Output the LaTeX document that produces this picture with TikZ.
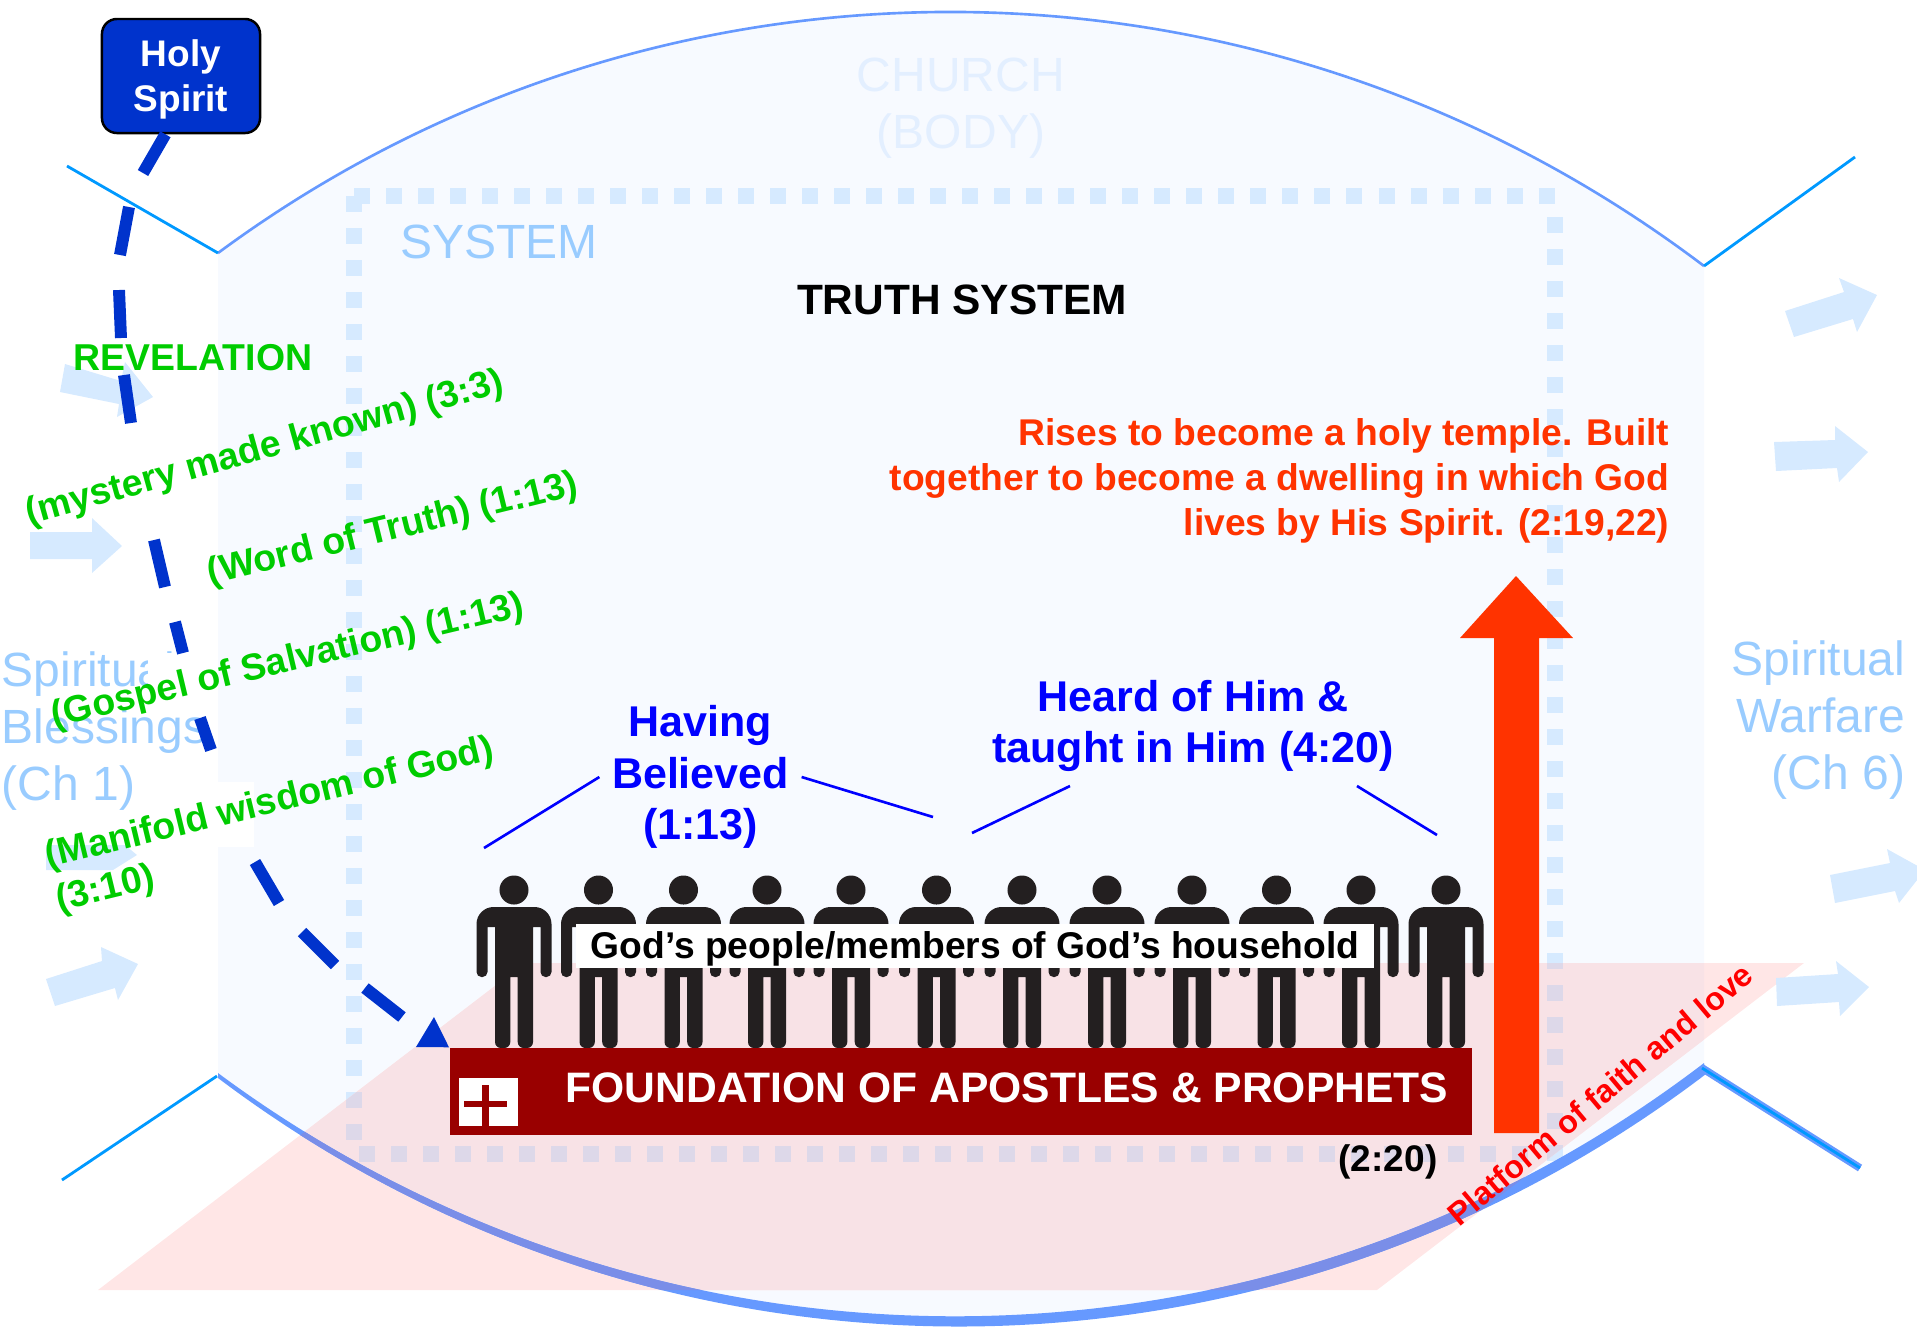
\documentclass[tikz,border=0pt]{standalone}
\usepackage{fontspec}
\setmainfont{Liberation Sans}
\usetikzlibrary{calc}
\newcommand\pxf[2]{\fontsize{\fpeval{#1*0.2845}pt}{\fpeval{#2*0.2845}pt}\selectfont}
\definecolor{bodyfill}{HTML}{F7FAFF}
\definecolor{paleblue}{HTML}{D6EAFF}
\definecolor{midblue}{HTML}{99CCFF}
\definecolor{archblue}{HTML}{6699FF}
\definecolor{cornerblue}{HTML}{0099FF}
\definecolor{deepblue}{HTML}{0033CC}
\definecolor{leafgreen}{HTML}{00CC00}
\definecolor{brick}{HTML}{990000}
\definecolor{flame}{HTML}{FF3300}
\definecolor{personc}{HTML}{231F20}
\definecolor{pinkbase}{HTML}{FFE6E6}
\definecolor{pinkbody}{HTML}{F8E2E6}
\definecolor{pinkdot}{HTML}{DDD8E9}
\definecolor{pinkarch}{HTML}{7A8EE8}
\definecolor{churchc}{HTML}{E3EFFF}
\newcommand\bodyshape{(218,253) .. controls (659,-73) and (1263,-68) .. (1704,266) -- (1704,1070) .. controls (1264,1405) and (658,1405) .. (218,1076) -- cycle}
\newcommand\platshape{(98,1290) -- (525,963) -- (1804,963) -- (1377,1290) -- cycle}
\newcommand\archband{(218,1073) .. controls (658,1399) and (1264,1399) .. (1704,1063) -- (1706,1074) .. controls (1264,1410) and (658,1410) .. (218,1078) -- cycle}
\newcommand\sysdots[1]{%
  \draw[sysdot,draw=#1] (354,196) -- (1562,196);
  \draw[sysdot,draw=#1] (353.6,196) -- (353.6,1145);
  \draw[sysdot,draw=#1] (359,1154) -- (1530,1154);
  \draw[sysdot,draw=#1] (1555,217) -- (1555,1161);
}
\tikzset{
  x=0.01cm,y=-0.01cm,
  sysdot/.style={line width=4.552pt,dash pattern=on 4.552pt off 4.552pt},
  corner/.style={draw=cornerblue,line width=0.8pt},
  pale/.style={fill=paleblue},
  txt/.style={inner sep=0pt,text depth=0pt},
  greenlab/.style={inner sep=0pt,text=leafgreen,font=\pxf{37.4}{45}\bfseries},
  bluelab/.style={text=blue,font=\pxf{43}{51.5}\bfseries,align=center},
  ghost/.style={inner sep=0pt,text=midblue,font=\pxf{48}{57}},
  thinblue/.style={draw=blue,line width=0.75pt},
  spiritline/.style={draw=deepblue,line width=3.4pt},
}
\begin{document}
\begin{tikzpicture}
\useasboundingbox (0,0) rectangle (1917,1326);
% church body
\fill[bodyfill] \bodyshape;
\sysdots{paleblue}
% platform
\fill[pinkbase] \platshape;
\begin{scope}
  \clip \platshape;
  \fill[pinkbody] \bodyshape;
  \sysdots{pinkdot}
\end{scope}
% outlines
\draw[archblue,line width=0.75pt] (218,253) .. controls (659,-73) and (1263,-68) .. (1704,266);
\fill[archblue] \archband;
\begin{scope}
  \clip \platshape;
  \fill[pinkarch] \archband;
\end{scope}
\draw[corner] (67,166) -- (218,253);
\draw[corner] (1704,266) -- (1855,157);
\draw[corner] (217,1076) -- (62,1180);
\draw[archblue,line width=2.2pt] (1702,1068) -- (1860,1168);
\draw[corner] (1702,1068) -- (1860,1168);
% pale side arrows
\fill[pale] (65,364) -- (121,381) -- (125,362) -- (153,397) -- (117,417) -- (119,404) -- (60,392) -- cycle;
\fill[pale] (30,532) -- (92,532) -- (92,518) -- (122,546) -- (92,573) -- (92,559) -- (30,559) -- cycle;
\fill[pale] (46,845) -- (125,845) -- (137,855) -- (113,870) -- (46,870) -- cycle;
\fill[pale] (46,979) -- (102,961) -- (101,947) -- (138,964) -- (118,1000) -- (115,988) -- (55,1006) -- cycle;
\fill[pale] (1785,311) -- (1844,292) -- (1839,278) -- (1877,295) -- (1857,332) -- (1853,319) -- (1794,337) -- cycle;
\fill[pale] (1774,442) -- (1835,440) -- (1835,426) -- (1868,452) -- (1839,482) -- (1837,468) -- (1776,471) -- cycle;
\fill[pale] (1830,875) -- (1890,863) -- (1887,849) -- (1925,870) -- (1899,903) -- (1895,891) -- (1835,903) -- cycle;
\fill[pale] (1776,978) -- (1838,974) -- (1836,961) -- (1869,987) -- (1840,1016) -- (1839,1002) -- (1777,1006) -- cycle;
% pale headings
\node[txt,text=churchc,font=\pxf{48}{57},align=center] (church) at (961,103) {CHURCH\\(BODY)};
\node[txt,text=midblue,font=\pxf{48}{57}] (system) at (499,242) {SYSTEM};
\node[ghost,align=left,anchor=west] (blessings) at (1,731) {Spiritual\\Blessings\\(Ch 1)};
\node[ghost,align=right,anchor=east] (warfare) at (1906,720) {Spiritual\\Warfare\\(Ch 6)};
% white masks behind the rotated labels
\fill[white] (148,653) rectangle (216,708);
\fill[white] (135,782) rectangle (254,847);
% people
\foreach \x in {514,598.5,683.5,767,851,936.5,1022,1107,1192,1276.5,1361,1446}{
  \begin{scope}[shift={(\x,0)}]
    \fill[personc] (0,890) circle[radius=0.145cm];
    \fill[personc] (0,907) [rounded corners=1.7mm] -- (37.5,907) [rounded corners=0.5mm] -- (37.5,977) -- (26.5,977) [sharp corners] -- (26.5,927) -- (19,927) [rounded corners=0.6mm] -- (19,1048) -- (3.7,1048) [sharp corners] -- (3.7,977) -- (-3.7,977) [rounded corners=0.6mm] -- (-3.7,1048) -- (-19,1048) [sharp corners] -- (-19,927) -- (-26.5,927) [rounded corners=0.5mm] -- (-26.5,977) -- (-37.5,977) [rounded corners=1.7mm] -- (-37.5,907) -- cycle;
  \end{scope}
}
\node[fill=white,minimum width=7.98cm,minimum height=0.44cm,inner sep=0pt] (peoplebox) at (975,946) {};
\node[inner sep=0pt,anchor=base,font=\pxf{37.2}{45}\bfseries] (people) at (975,958) {God’s people/members of God’s household};
% foundation
\node[fill=brick,minimum width=10.216cm,minimum height=0.87cm,inner sep=0pt] (found) at (960.8,1091.5) {};
\node[txt,text=white,font=\pxf{42.6}{50}\bfseries] (foundtxt) at (1007,1088) {FOUNDATION OF APOSTLES \& PROPHETS};
\fill[white] (459,1078) rectangle (518,1126);
\fill[brick] (464,1101) rectangle (507,1107);
\fill[brick] (482,1085) rectangle (489,1126);
\node[txt,font=\pxf{37}{45}\bfseries] (ref) at (1388,1158) {(2:20)};
% rising arrow
\fill[flame] (1494,1133) -- (1494,638) -- (1460,638) -- (1516,576) -- (1573,638) -- (1539,638) -- (1539,1133) -- cycle;
% texts
\node[txt,font=\pxf{42.4}{50}\bfseries] (truth) at (962,300) {TRUTH SYSTEM};
\node[txt,text=flame,font=\pxf{37.2}{44.7}\bfseries,align=right,anchor=east] (rises) at (1670,477) {Rises to become a holy temple. Built\\together to become a dwelling in which God\\lives by His Spirit. (2:19,22)};
\node[bluelab,inner xsep=3.4pt,inner ysep=0pt] (having) at (700.5,777) {Having\\Believed\\(1:13)};
\node[bluelab,inner sep=0pt] (heard) at (1193,726) {Heard of Him \&\\taught in Him (4:20)};
\coordinate (h1) at (484,848);
\coordinate (h2) at (933,817);
\coordinate (h3) at (972,833);
\coordinate (h4) at (1070,786);
\coordinate (h5) at (1357,786);
\coordinate (h6) at (1437,835);
\draw[thinblue] (having.west) -- (h1);
\draw[thinblue] (having.east) -- (h2);
\draw[thinblue] (h4) -- (h3);
\draw[thinblue] (h5) -- (h6);
\node[txt,text=red,font=\pxf{32.2}{40}\bfseries,rotate=40] (platform) at (1600,1094) {Platform of faith and love};
% holy spirit
\node[draw=black,line width=0.7pt,fill=deepblue,rounded corners=1.5mm,minimum width=1.58cm,minimum height=1.14cm,inner sep=0pt,text=white,text depth=0pt,font=\pxf{37}{45}\bfseries,align=center] (hs) at (181,76) {Holy\\Spirit};
% revelation line, dash by dash
\draw[spiritline] (hs.-105) -- (143,173) (129,207) -- (120,255) (119,290) -- (121,338) (124,375) -- (131,423) (154,540) -- (165,587) (175,622) -- (183,653) (200,718) -- (211,750) (255,862) -- (279,903) (302,932) -- (335,965) (365,988) -- (402,1017);
\fill[deepblue] (416,1047) -- (434,1017) -- (found.north west) -- cycle;
% green labels
\node[greenlab] (rev) at (193,358) {REVELATION};
\node[greenlab,rotate=15.6] (mystery) at (265,449) {(mystery made known) (3:3)};
\node[greenlab,rotate=13.8] (word) at (393,530) {(Word of Truth) (1:13)};
\node[greenlab,rotate=13.4] (gospel) at (288,662) {(Gospel of Salvation) (1:13)};
\node[greenlab,rotate=13.6,align=left] (wisdom) at (275,826) {(Manifold wisdom of God)\\(3:10)};
\end{tikzpicture}
\end{document}
